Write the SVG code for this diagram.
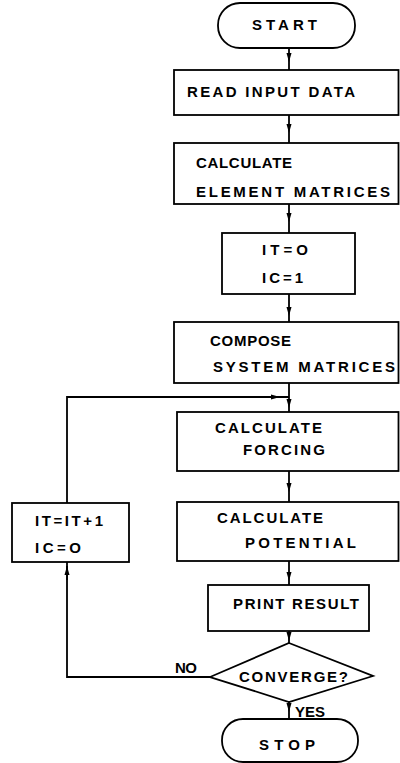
<svg xmlns="http://www.w3.org/2000/svg" width="400" height="763" viewBox="0 0 400 763">
<style>
.s{fill:#fff;stroke:#000;stroke-width:1.8}
.c{fill:none;stroke:#000;stroke-width:1.8}
text{font-family:"Liberation Sans",Arial,sans-serif;font-weight:bold;font-size:15px;fill:#000}
</style>
<defs>
<marker id="a" markerUnits="userSpaceOnUse" markerWidth="10" markerHeight="6" refX="9" refY="3" orient="auto">
<path d="M0,0.5 L9,3 L0,5.5 z" fill="#000"/>
</marker>
</defs>
<rect width="400" height="763" fill="#fff"/>
<g id="connectors">
<path class="c" d="M289,48 L289,62 L289,70" marker-mid="url(#a)"/>
<path class="c" d="M289,115 L289,133 L289,143" marker-mid="url(#a)"/>
<path class="c" d="M289,204 L289,222 L289,233" marker-mid="url(#a)"/>
<path class="c" d="M289,294 L289,316 L289,322" marker-mid="url(#a)"/>
<path class="c" d="M289,383 L289,408 L289,412" marker-mid="url(#a)"/>
<path class="c" d="M289,471 L289,492 L289,502" marker-mid="url(#a)"/>
<path class="c" d="M289,561 L289,581 L289,585" marker-mid="url(#a)"/>
<path class="c" d="M289,631 L289,641 L289,643" marker-mid="url(#a)"/>
<path class="c" d="M289,702 L289,712 L289,719" marker-mid="url(#a)"/>
<path class="c" d="M210,677 L67,677 L67,562"/>
<path class="c" d="M67,580 L67,566" marker-end="url(#a)"/>
<path class="c" d="M67,503 L67,397 L289,397"/>
<path class="c" d="M265,397 L280,397" marker-end="url(#a)"/>
</g>
<g id="start">
<rect class="s" x="218" y="3" width="137" height="45" rx="22"/>
<text x="252" y="30" textLength="65" lengthAdjust="spacing">START</text>
</g>
<g id="read">
<rect class="s" x="174" y="70" width="224.5" height="45"/>
<text x="187" y="97" textLength="168" lengthAdjust="spacing">READ INPUT DATA</text>
</g>
<g id="element">
<rect class="s" x="174" y="143" width="224.5" height="61"/>
<text x="196" y="168" textLength="96" lengthAdjust="spacing">CALCULATE</text>
<text x="196" y="197" textLength="194" lengthAdjust="spacing">ELEMENT  MATRICES</text>
</g>
<g id="init">
<rect class="s" x="222" y="233" width="133" height="61"/>
<text x="262" y="255" textLength="46" lengthAdjust="spacing">IT=O</text>
<text x="262" y="283" textLength="41" lengthAdjust="spacing">IC=1</text>
</g>
<g id="compose">
<rect class="s" x="174" y="322" width="224.5" height="61"/>
<text x="210" y="346" textLength="81" lengthAdjust="spacing">COMPOSE</text>
<text x="213" y="372" textLength="182" lengthAdjust="spacing">SYSTEM  MATRICES</text>
</g>
<g id="forcing">
<rect class="s" x="177" y="412" width="221.5" height="59"/>
<text x="215" y="433" textLength="107" lengthAdjust="spacing">CALCULATE</text>
<text x="243" y="455" textLength="82" lengthAdjust="spacing">FORCING</text>
</g>
<g id="increment">
<rect class="s" x="12" y="503" width="117" height="59"/>
<text x="35" y="526" textLength="68" lengthAdjust="spacing">IT=IT+1</text>
<text x="35" y="553" textLength="46" lengthAdjust="spacing">IC=O</text>
</g>
<g id="potential">
<rect class="s" x="177" y="502" width="221.5" height="59"/>
<text x="217" y="523" textLength="106" lengthAdjust="spacing">CALCULATE</text>
<text x="245" y="548" textLength="111" lengthAdjust="spacing">POTENTIAL</text>
</g>
<g id="print">
<rect class="s" x="208" y="585" width="161" height="46"/>
<text x="233" y="609" textLength="126" lengthAdjust="spacing">PRINT RESULT</text>
</g>
<g id="converge">
<path class="s" d="M289,643 L373,676 L289,702 L210,677 Z"/>
<text x="239" y="682" textLength="109" lengthAdjust="spacing">CONVERGE?</text>
</g>
<g id="labels">
<text x="175" y="673" textLength="22" lengthAdjust="spacing">NO</text>
<text x="295" y="717" textLength="30" lengthAdjust="spacing">YES</text>
</g>
<g id="stop">
<rect class="s" x="222" y="719" width="136" height="43" rx="21"/>
<text x="259" y="750" textLength="56" lengthAdjust="spacing">STOP</text>
</g>
</svg>
